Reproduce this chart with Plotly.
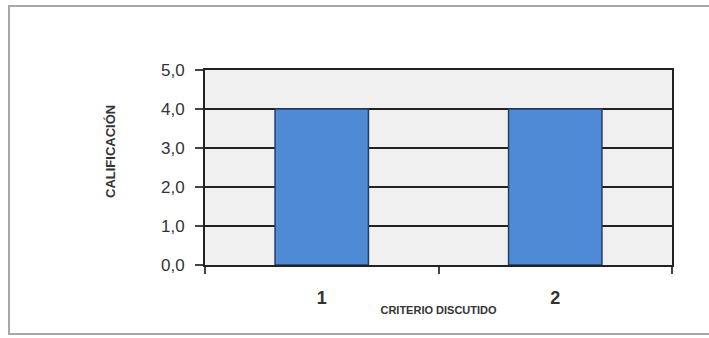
import plotly.graph_objects as go

# Data
criterios = [1, 2]
calificacion = [4.0, 4.0]
y_ticks = [0, 1, 2, 3, 4, 5]

W, H = 709, 338
L, R, T, B = 205, 37, 70, 73
pw, ph = W - L - R, H - T - B

def px_x(p):
    return (p - L) / pw

def px_y(p):
    return (H - B - p) / ph

fig = go.Figure()
fig.add_trace(go.Bar(
    x=criterios, y=calificacion, width=0.4,
    marker=dict(color="#4f8ad6", line=dict(color="#253f66", width=1.5)),
    hoverinfo="skip",
))

fig.update_layout(
    width=W, height=H,
    margin=dict(l=L, r=R, t=T, b=B, pad=0),
    paper_bgcolor="white", plot_bgcolor="#f0f0f0",
    separators=",.",
    showlegend=False,
    font=dict(family="Liberation Sans, Arial, sans-serif", color="#333"),
    xaxis=dict(
        range=[0.5, 2.5], tickvals=criterios, ticktext=[str(c) for c in criterios],
        ticks="", showgrid=False, zeroline=False,
        ticklabelstandoff=15, tickfont=dict(size=18, color="#333", weight="bold"),
        showline=True, linecolor="#222", linewidth=2, mirror=True,
        minor=dict(tickvals=[0.5, 1.5, 2.5], ticks="outside", ticklen=7,
                   tickcolor="#444", tickwidth=1.5, showgrid=False),
        title=dict(text="<b>CRITERIO DISCUTIDO</b>", font=dict(size=11, color="#333"),
                   standoff=0),
    ),
    yaxis=dict(
        range=[0, 5], tickvals=y_ticks, tickformat=".1f",
        ticks="outside", ticklen=8, tickcolor="#444", tickwidth=1.5,
        ticklabelstandoff=7,
        tickfont=dict(size=17, color="#333"),
        showgrid=True, gridcolor="#222", gridwidth=2, zeroline=False,
        showline=True, linecolor="#222", linewidth=2, mirror=True,
    ),
    annotations=[dict(
        text="<b>CALIFICACIÓN</b>", textangle=-90, showarrow=False,
        xref="paper", yref="paper", x=px_x(110), y=px_y(152),
        xanchor="center", yanchor="middle",
        font=dict(size=13, color="#333"),
    )],
    shapes=[dict(
        type="rect", xref="paper", yref="paper", layer="below",
        x0=px_x(9), x1=px_x(712), y0=px_y(334), y1=px_y(6),
        line=dict(color="#a8a8a8", width=2), fillcolor="rgba(0,0,0,0)",
    )],
)

fig.write_html("out.html")
